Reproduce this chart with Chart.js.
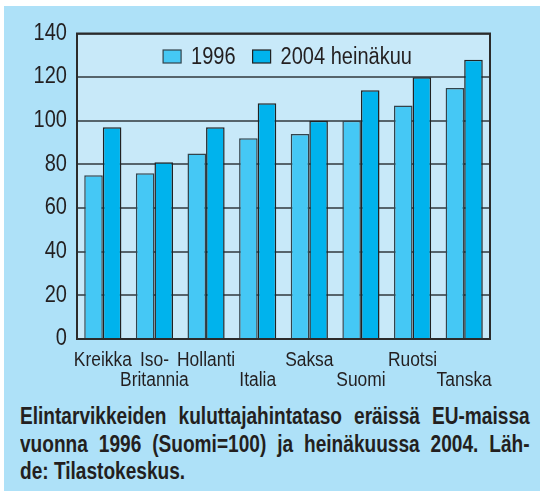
<!DOCTYPE html>
<html>
<head>
<meta charset="utf-8">
<script src="https://cdn.jsdelivr.net/npm/chart.js@4.4.1/dist/chart.umd.min.js"></script>
<style>
  body { margin: 0; background: #fff; }
  #panel { position: absolute; left: 4px; top: 6px; width: 536px; height: 485px; background: #aee1f8; }
  #wrap { position: absolute; left: 0; top: 0; width: 540px; height: 395px; }
  #caption {
    position: absolute; left: 20px; top: 403px; width: 614px;
    transform: scaleX(0.83); transform-origin: 0 0;
    font-family: 'Liberation Sans', Arial, sans-serif;
    font-weight: bold; font-size: 23px; line-height: 27.5px; color: #231f20;
  }
  #caption div { text-align: justify; text-align-last: justify; white-space: nowrap; }
  #caption div.last { text-align-last: left; }
</style>
</head>
<body>
<div id="panel"></div>
<div id="wrap"><canvas id="chart"></canvas></div>
<div id="caption">
  <div>Elintarvikkeiden kuluttajahintataso eräissä EU-maissa</div>
  <div>vuonna 1996 (Suomi=100) ja heinäkuussa 2004. Läh-</div>
  <div class="last">de: Tilastokeskus.</div>
</div>
<script>
const categories = ['Kreikka', 'Iso-Britannia', 'Hollanti', 'Italia', 'Saksa', 'Suomi', 'Ruotsi', 'Tanska'];
// staggered axis labels, as printed
const tickLabels = [['Kreikka'], ['Iso-', 'Britannia'], ['Hollanti'], ['', 'Italia'], ['Saksa'], ['', 'Suomi'], ['Ruotsi'], ['', 'Tanska']];
const values1996 = [75, 76, 85, 92, 94, 100, 107, 115];
const values2004 = [97, 81, 97, 108, 100, 114, 120, 128];
const seriesNames = ['1996', '2004 heinäkuu'];

const FONT = "'Liberation Sans', Arial, sans-serif";
const INK = '#231f20';
const SQUEEZE = 0.87; // the print uses a condensed face

// narrow every text the chart draws, around its anchor point
const condensed = {
    id: 'condensed',
    beforeDraw(chart) {
        const ctx = chart.ctx;
        if (ctx._squeezed) return;
        const orig = ctx.fillText.bind(ctx);
        ctx.fillText = function(text, x, y, maxWidth) {
            ctx.save();
            ctx.translate(x, y);
            ctx.scale(SQUEEZE, 1);
            if (maxWidth !== undefined) orig(text, 0, 0, maxWidth / SQUEEZE);
            else orig(text, 0, 0);
            ctx.restore();
        };
        ctx._squeezed = true;
    }
};

const plotFrame = {
    id: 'plotFrame',
    beforeDraw(chart) {
        const a = chart.chartArea;
        const ctx = chart.ctx;
        ctx.save();
        ctx.fillStyle = '#c8e9f9';
        ctx.fillRect(a.left, a.top, a.right - a.left, a.bottom - a.top);
        ctx.restore();
    },
    afterDatasetsDraw(chart) {
        const a = chart.chartArea;
        const ctx = chart.ctx;
        ctx.save();
        ctx.strokeStyle = '#2b2b2b';
        ctx.lineWidth = 2;
        ctx.strokeRect(a.left, a.top, a.right - a.left, a.bottom - a.top);
        ctx.restore();
    }
};

// horizontal legend inside the top of the plot
const innerLegend = {
    id: 'innerLegend',
    afterDatasetsDraw(chart) {
        const a = chart.chartArea;
        const ctx = chart.ctx;
        const boxW = 18, boxH = 13, gap = 10, itemGap = 17;
        const cy = a.top + 23;
        ctx.save();
        ctx.font = '23px ' + FONT;
        const items = chart.data.datasets.map(ds => ({
            ds, w: ctx.measureText(ds.label).width * SQUEEZE
        }));
        let total = items.reduce((s, it) => s + boxW + gap + it.w, 0) + itemGap * (items.length - 1);
        let x = (a.left + a.right) / 2 - total / 2 + 4;
        items.forEach(it => {
            ctx.fillStyle = it.ds.backgroundColor;
            ctx.fillRect(x, cy - boxH / 2, boxW, boxH);
            ctx.strokeStyle = it.ds.borderColor;
            ctx.lineWidth = 1.2;
            ctx.strokeRect(x, cy - boxH / 2, boxW, boxH);
            ctx.fillStyle = INK;
            ctx.textAlign = 'left';
            ctx.textBaseline = 'middle';
            ctx.fillText(it.ds.label, x + boxW + gap, cy + 1);
            x += boxW + gap + it.w + itemGap;
        });
        ctx.restore();
    }
};

new Chart(document.getElementById('chart'), {
    type: 'bar',
    data: {
        labels: tickLabels,
        datasets: [
            {
                label: seriesNames[0],
                data: values1996,
                backgroundColor: '#45c8f5',
                borderColor: '#33444c',
                borderWidth: 1.5
            },
            {
                label: seriesNames[1],
                data: values2004,
                backgroundColor: '#00b3ed',
                borderColor: '#222',
                borderWidth: 1.5
            }
        ]
    },
    options: {
        responsive: true,
        maintainAspectRatio: false,
        animation: false,
        layout: { padding: { top: 33.5, right: 50, left: 0, bottom: 0 } },
        datasets: { bar: { categoryPercentage: 0.72, barPercentage: 1 } },
        plugins: {
            tooltip: { enabled: false },
            legend: { display: false }
        },
        scales: {
            x: {
                grid: { display: false },
                border: { display: false },
                ticks: {
                    color: INK,
                    padding: 3,
                    maxRotation: 0,
                    autoSkip: false,
                    font: { family: FONT, size: 20, lineHeight: 1 }
                },
                afterFit(scale) { scale.height = 56; }
            },
            y: {
                min: 0,
                max: 140,
                ticks: {
                    stepSize: 20,
                    color: INK,
                    padding: 10,
                    font: { family: FONT, size: 23 }
                },
                grid: { color: '#56646c', lineWidth: 2, drawTicks: false },
                border: { display: false },
                afterFit(scale) { scale.width = 77; }
            }
        }
    },
    plugins: [condensed, plotFrame, innerLegend]
});
</script>
</body>
</html>
